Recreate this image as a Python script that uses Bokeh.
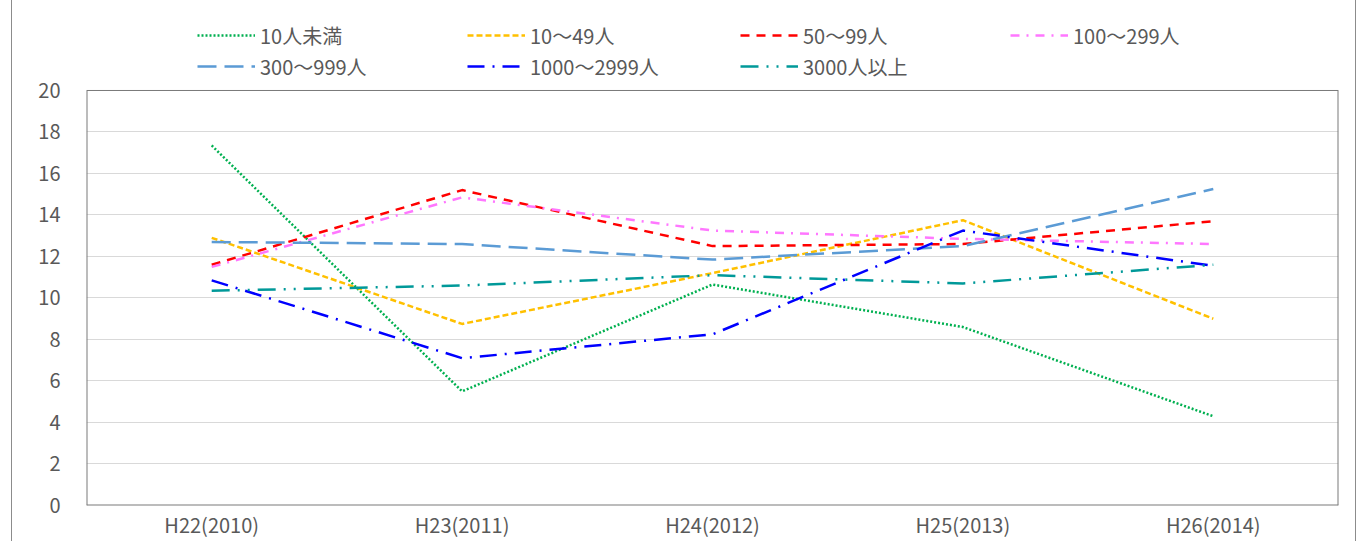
from bokeh.plotting import figure
from bokeh.models import FactorRange, Range1d, Legend, LegendItem, FixedTicker
from bokeh.embed import file_html
from bokeh.resources import INLINE

years = ["H22(2010)", "H23(2011)", "H24(2012)", "H25(2013)", "H26(2014)"]

s_lt10 = [17.35, 5.5, 10.65, 8.6, 4.3]
s_10_49 = [12.9, 8.75, 11.2, 13.75, 9.0]
s_50_99 = [11.6, 15.2, 12.5, 12.6, 13.7]
s_100_299 = [11.5, 14.85, 13.25, 12.85, 12.6]
s_300_999 = [12.7, 12.6, 11.85, 12.5, 15.25]
s_1000_2999 = [10.85, 7.1, 8.25, 13.25, 11.55]
s_3000 = [10.35, 10.6, 11.1, 10.7, 11.6]

y_ticks = [0, 2, 4, 6, 8, 10, 12, 14, 16, 18, 20]

names = ["10人未満", "10～49人", "50～99人", "100～299人", "300～999人", "1000～2999人", "3000人以上"]
series = [s_lt10, s_10_49, s_50_99, s_100_299, s_300_999, s_1000_2999, s_3000]
colors = ["#00B050", "#FFC000", "#FF0000", "#FF77FF", "#5B9BD5", "#0000FF", "#009999"]
dashes = ["2 2", "6 3", "9 7", "9 7 2 7", "19 8", "17 8 2 8", "18 8 2 8 2 8"]

FONT = "Noto Sans CJK JP"
TXT = "#595959"
BOX = "#7a7a7a"

# frame extends above the 0-20 plot box so the legend can sit inside it
p = figure(width=1345, height=541, x_range=FactorRange(factors=years),
           y_range=Range1d(0, 23.855), output_backend="svg", toolbar_location=None,
           min_border_left=74, min_border_right=19, min_border_top=10, min_border_bottom=36)
p.styles = {"margin-left": "11px", "border-left": "1px solid #8c8c8c",
            "border-right": "1px solid #8c8c8c"}

p.outline_line_color = None
p.xgrid.grid_line_color = None
p.ygrid.grid_line_color = "#d9d9d9"
p.ygrid.grid_line_width = 1
p.yaxis.ticker = FixedTicker(ticks=y_ticks)

for ax in (p.xaxis[0], p.yaxis[0]):
    ax.axis_line_color = None
    ax.major_tick_line_color = None
    ax.minor_tick_line_color = None
    ax.major_tick_out = 0
    ax.major_tick_in = 0
    ax.minor_tick_out = 0
    ax.minor_tick_in = 0
    ax.major_label_text_font = FONT
    ax.major_label_text_font_size = "20px"
    ax.major_label_text_color = TXT
p.yaxis.major_label_standoff = 26
p.xaxis.major_label_standoff = 4

# plot-area box (0-20 band) : edges from the first/last category edges
left_edge = (years[0], -0.5)
right_edge = (years[-1], 0.5)
y_lo, y_hi = y_ticks[0], y_ticks[-1]
p.segment(x0=[left_edge, right_edge, left_edge], x1=[left_edge, right_edge, right_edge],
          y0=[y_lo, y_lo, y_lo], y1=[y_hi, y_hi, y_lo], line_color=BOX, line_width=2)
p.segment(x0=[left_edge], x1=[right_edge], y0=[y_hi], y1=[y_hi], line_color=BOX, line_width=1)

renderers = []
for name, vals, c, d in zip(names, series, colors, dashes):
    r = p.line(years, vals, line_color=c, line_width=2.5, line_dash=d)
    renderers.append(r)

col_x = [111, 381, 654, 924]
row_y = [455, 424]
for i, (name, r) in enumerate(zip(names, renderers)):
    row, col = divmod(i, 4)
    leg = Legend(items=[LegendItem(label=name, renderers=[r])],
                 location=(col_x[col], row_y[row]),
                 glyph_width=58, glyph_height=30, label_height=30,
                 label_standoff=5, padding=0, margin=0,
                 border_line_color=None, background_fill_alpha=0,
                 label_text_font=FONT, label_text_font_size="20px",
                 label_text_color=TXT)
    p.add_layout(leg, "center")

open("out.html", "w").write(file_html(p, INLINE))
